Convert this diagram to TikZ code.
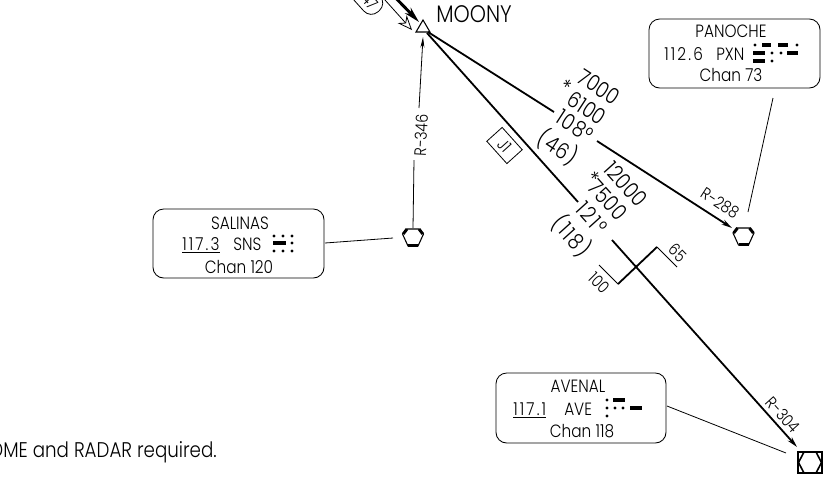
\documentclass[tikz,border=0pt]{standalone}
\usepackage{fontspec}
\setmainfont{Poppins}[UprightFont=* Light,Scale=0.92,FakeStretch=0.86]
\usetikzlibrary{arrows.meta}
\tikzset{x=0.75pt,y=-0.75pt,
 route/.style={line width=1.35pt},
 routearrow/.style={route,-{Stealth[length=8pt,width=4pt]}},
 thin line/.style={line width=0.6pt},
 radial/.style={thin line,-{Stealth[length=8pt,width=3pt]}},
 infobox/.style={draw,line width=0.65pt,rounded corners=8pt},
 lab/.style={inner sep=0pt,font=\fontsize{14.5}{16}\selectfont},
 big/.style={inner sep=0pt,font=\fontsize{18}{20}\selectfont},
 small/.style={inner sep=0pt,font=\fontsize{13.5}{16}\selectfont},
 hex/.style={line width=0.8pt}
}
\newcommand{\vorsym}[1]{%
 \begin{scope}[shift={(#1)}]
 \draw[hex] (-6,-8)--(6,-8)--(10.5,-3)--(5,9)--(-5,9)--(-10.5,-3)--cycle;
 \fill (-5,7) rectangle (5,10);
 \draw[line width=2.2pt] (-9.8,-3)--(-6,-8);
 \draw[line width=2.2pt] (9.8,-3)--(6,-8);
 \end{scope}}
\newcommand{\mdot}[2]{\fill (#1,#2) circle (1.7);}
\newcommand{\mbar}[3]{\fill (#1,#3-1.6) rectangle (#2,#3+1.6);}
\newcommand{\wide}[1]{{\addfontfeature{LetterSpace=12}#1}}
\begin{document}
\begin{tikzpicture}
\useasboundingbox (0,0) rectangle (825,476);
\clip (0,0) rectangle (825,476);
\coordinate (moonyR) at (428,32);
\coordinate (moonyJ) at (427,33);
\coordinate (moonyS) at (423,37);
\coordinate (pxn) at (732,228);
\coordinate (ave) at (797,447);
% MOONY
\draw[line width=0.8pt] (423,20)--(430,32)--(416,32)--cycle;
\node[inner sep=0pt,anchor=west,font=\fontsize{19.5}{20}\selectfont] (moony) at (436,14) {MOONY};
% routes
\draw[route] (moonyR)--(554,112);
\draw[routearrow] (597,141)--(pxn);
\draw[route] (moonyJ)--(578,202);
\draw[routearrow] (612,240)--(ave);
% inbound
\draw[line width=2.2pt,-{Stealth[length=12pt,width=6pt]}] (388,-10)--(419,22);
\draw[thin line,-{Stealth[length=11pt,width=9pt,open]}] (385,0)--(412,30);
% shield 47
\begin{scope}[shift={(366,-3)},rotate=-48]
 \draw[thin line,fill=white,rounded corners=7.5pt] (-20,-11) rectangle (19,11);
 \node[small,rotate=-48] (j47) at (6,0) {47};
\end{scope}
% leg 1
\node[big,rotate=-33] (a1) at (599,87) {7000};
\node[big,rotate=-33] (a2) at (587,108) {6100};
\node[big,rotate=-33] (a3) at (566,87) {*};
\node[big,rotate=-33] (a4) at (575,126) {\addfontfeature{LetterSpace=4}108°};
\node[big,rotate=-33] (a5) at (558,147) {\addfontfeature{LetterSpace=4}(46)};
% leg 2
\node[big,rotate=-48] (b1) at (626,184) {12000};
\node[big,rotate=-48] (b2) at (592,178) {*};
\node[big,rotate=-48] (b3) at (608,200) {7500};
\node[big,rotate=-48] (b4) at (592,218) {\addfontfeature{LetterSpace=8}121°};
\node[big,rotate=-48] (b5) at (572,236) {\addfontfeature{LetterSpace=8}(118)};
% J1
\node[draw,thin line,rotate=-48,minimum width=22.5pt,minimum height=15.5pt,inner sep=0pt,font=\fontsize{13.5}{16}\selectfont] (j1) at (504.5,145.5) {J1};
% changeover
\draw[route] (618,284)--(657,247);
\draw[thin line] (657,247)--(677,267);
\draw[thin line] (618,284)--(599,265);
\node[small,rotate=-45] (c65) at (678,253) {65};
\node[small,rotate=-45] (c100) at (599,283) {100};
% R labels
\node[small,rotate=-33] (r288) at (720,203) {R-288};
\node[small,rotate=-48] (r304) at (783,415) {R-304};
\node[small,rotate=87] (r346) at (421,135) {R-346};
% radial
\draw[radial] (419,108)--(moonyS);
\draw[thin line] (414,160)--(413,228);
% navaids
\vorsym{413,237}
\vorsym{743.5,236}
\draw[line width=2pt] (798,452) rectangle (822,473);
\begin{scope}[shift={(810,462.5)}]
 \draw[line width=1.2pt] (-6,-10.5)--(6,-10.5)--(11.5,0)--(6,10.5)--(-6,10.5)--(-11.5,0)--cycle;
\end{scope}
% Salinas
\draw[infobox] (153,209) rectangle (324,278);
\node[lab] (s1) at (240,223) {SALINAS};
\node[lab,anchor=base west] (s2) at (182,250) {\underline{\wide{117.3}}};
\node[lab,anchor=base west] (s2b) at (233,250) {SNS};
\node[lab] (s3) at (239,267) {Chan 120};
\draw[thin line] (325,243)--(393,238);
\foreach \x in {274,283,292}{\mdot{\x}{236}\mdot{\x}{251}}
\mbar{273}{286}{243}\mdot{292}{243}
% Panoche
\draw[infobox] (649,19) rectangle (820,88);
\node[lab] (p1) at (731,31) {PANOCHE};
\node[lab,anchor=base west] (p2) at (664,60) {\wide{112.6}};
\node[lab,anchor=base west] (p2b) at (716,60) {PXN};
\node[lab] (p3) at (731,75) {Chan 73};
\draw[thin line] (773,98)--(748,212);
\mdot{755}{45}\mbar{762}{771}{45}\mbar{778}{788}{45}\mdot{797}{45}
\mbar{753}{765}{53}\mdot{772}{53}\mdot{781}{53}\mbar{787}{798}{53}
\mbar{753}{765}{61}\mdot{772}{61}
% Avenal
\draw[infobox] (496,373) rectangle (666,443);
\node[lab] (v1) at (578,386) {AVENAL};
\node[lab,anchor=base west] (v2) at (513,415) {\underline{\wide{117.1}}};
\node[lab,anchor=base west] (v2b) at (564,415) {AVE};
\node[lab] (v3) at (582,431) {Chan 118};
\draw[thin line] (667,406)--(786,453);
\mdot{607}{400}\mbar{613}{625}{400}
\mdot{607}{408}\mdot{615}{408}\mdot{623}{408}\mbar{630}{642}{408}
\mdot{607}{416}
\node[inner sep=0pt,anchor=east,font=\fontsize{17.3}{18}\selectfont] (note) at (217,452) {DME and RADAR required.};
\end{tikzpicture}
\end{document}
